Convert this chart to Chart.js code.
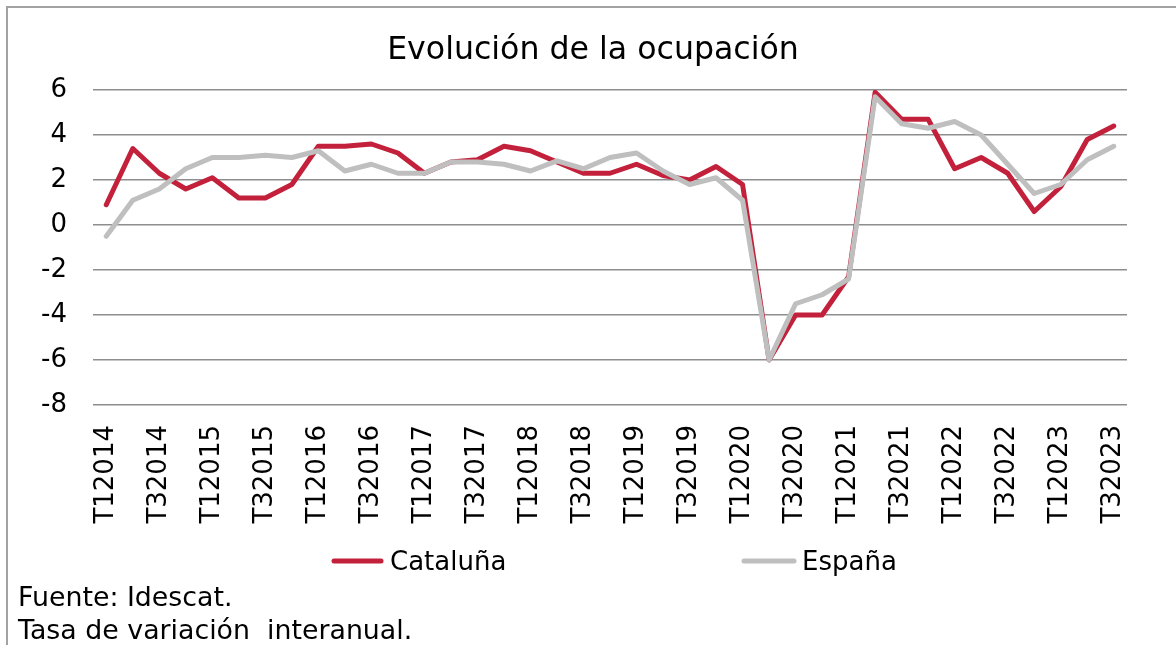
<!DOCTYPE html>
<html>
<head>
<meta charset="utf-8">
<script src="https://cdn.jsdelivr.net/npm/chart.js@4/dist/chart.umd.min.js"></script>
<style>
html, body { margin: 0; padding: 0; background: #fff; }
canvas { display: block; }
</style>
</head>
<body>
<canvas id="c" width="1176" height="645"></canvas>
<script>
const chartTitle = 'Evolución de la ocupación';
const quarters = [
  'T12014','T22014','T32014','T42014',
  'T12015','T22015','T32015','T42015',
  'T12016','T22016','T32016','T42016',
  'T12017','T22017','T32017','T42017',
  'T12018','T22018','T32018','T42018',
  'T12019','T22019','T32019','T42019',
  'T12020','T22020','T32020','T42020',
  'T12021','T22021','T32021','T42021',
  'T12022','T22022','T32022','T42022',
  'T12023','T22023','T32023'
];
const tickLabels = [
  'T12014','T32014','T12015','T32015','T12016','T32016','T12017','T32017',
  'T12018','T32018','T12019','T32019','T12020','T32020','T12021','T32021',
  'T12022','T32022','T12023','T32023'
];
const cataluna = [
  0.9, 3.4, 2.3, 1.6, 2.1, 1.2, 1.2, 1.8,
  3.5, 3.5, 3.6, 3.2, 2.3, 2.8, 2.9, 3.5,
  3.3, 2.8, 2.3, 2.3, 2.7, 2.2, 2.0, 2.6,
  1.8, -6.0, -4.0, -4.0, -2.3, 5.9, 4.7, 4.7,
  2.5, 3.0, 2.3, 0.6, 1.7, 3.8, 4.4
];
const espana = [
  -0.5, 1.1, 1.6, 2.5, 3.0, 3.0, 3.1, 3.0,
  3.3, 2.4, 2.7, 2.3, 2.3, 2.8, 2.8, 2.7,
  2.4, 2.85, 2.5, 3.0, 3.2, 2.4, 1.8, 2.1,
  1.1, -6.0, -3.5, -3.1, -2.4, 5.7, 4.5, 4.3,
  4.6, 4.0, 2.7, 1.4, 1.8, 2.9, 3.5
];
const seriesNames = ['Cataluña', 'España'];
const yMin = -8, yMax = 6, yStep = 2;
const notes = ['Fuente: Idescat.', 'Tasa de variación  interanual.'];

const FONT = "'DejaVu Sans', Verdana, sans-serif";
Chart.defaults.font.family = FONT;
Chart.defaults.color = '#000';

const decor = {
  id: 'decor',
  beforeDraw(chart) {
    const ctx = chart.ctx;
    ctx.save();
    ctx.fillStyle = '#fff';
    ctx.fillRect(0, 0, chart.width, chart.height);
    ctx.strokeStyle = '#a3a3a3';
    ctx.lineWidth = 2;
    ctx.beginPath();
    ctx.moveTo(7, chart.height);
    ctx.lineTo(7, 7);
    ctx.lineTo(chart.width, 7);
    ctx.stroke();
    ctx.restore();
  },
  afterDraw(chart) {
    const ctx = chart.ctx;
    ctx.save();
    ctx.fillStyle = '#000';
    ctx.textBaseline = 'alphabetic';
    // title
    ctx.font = '31.6px ' + FONT;
    ctx.textAlign = 'center';
    ctx.fillText(chartTitle, 593, 59);
    // legend
    const slots = [{x1: 334, x2: 381, tx: 390}, {x1: 744, x2: 794, tx: 802}];
    ctx.textAlign = 'left';
    ctx.font = '26px ' + FONT;
    chart.data.datasets.forEach((ds, i) => {
      const s = slots[i];
      ctx.strokeStyle = ds.borderColor;
      ctx.lineWidth = 5;
      ctx.lineCap = 'round';
      ctx.beginPath();
      ctx.moveTo(s.x1, 561);
      ctx.lineTo(s.x2, 561);
      ctx.stroke();
      ctx.fillText(ds.label, s.tx, 570);
    });
    // notes
    ctx.font = '26.8px ' + FONT;
    ctx.fillText(notes[0], 18, 606);
    ctx.fillText(notes[1], 18, 639);
    ctx.restore();
  }
};

new Chart(document.getElementById('c'), {
  type: 'line',
  data: {
    labels: quarters,
    datasets: [
      {
        label: seriesNames[0], data: cataluna,
        borderColor: '#C3213B', backgroundColor: '#C3213B',
        borderWidth: 5, pointRadius: 0, tension: 0,
        borderJoinStyle: 'round', borderCapStyle: 'round', order: 1
      },
      {
        label: seriesNames[1], data: espana,
        borderColor: '#BFBFBF', backgroundColor: '#BFBFBF',
        borderWidth: 5, pointRadius: 0, tension: 0,
        borderJoinStyle: 'round', borderCapStyle: 'round', order: 0
      }
    ]
  },
  options: {
    responsive: false,
    animation: false,
    devicePixelRatio: 1,
    layout: { padding: { top: 90, right: 49, bottom: 100, left: 0 } },
    plugins: {
      legend: { display: false },
      title: { display: false },
      tooltip: { enabled: false }
    },
    scales: {
      x: {
        type: 'category',
        offset: true,
        grid: { display: false, drawTicks: false },
        border: { display: false },
        ticks: {
          autoSkip: false, maxRotation: 90, minRotation: 90, padding: 20,
          color: '#000', font: { size: 26 },
          callback: (v, i) => tickLabels.includes(quarters[i]) ? quarters[i] : ''
        },
        afterFit: (s) => { s.height = 140; }
      },
      y: {
        min: yMin, max: yMax,
        ticks: { stepSize: yStep, padding: 26, color: '#000', font: { size: 26 } },
        grid: { color: '#8e8e8e', lineWidth: 1.5, drawTicks: false },
        border: { display: false },
        afterFit: (s) => { s.width = 93; }
      }
    }
  },
  plugins: [decor]
});
</script>
</body>
</html>
